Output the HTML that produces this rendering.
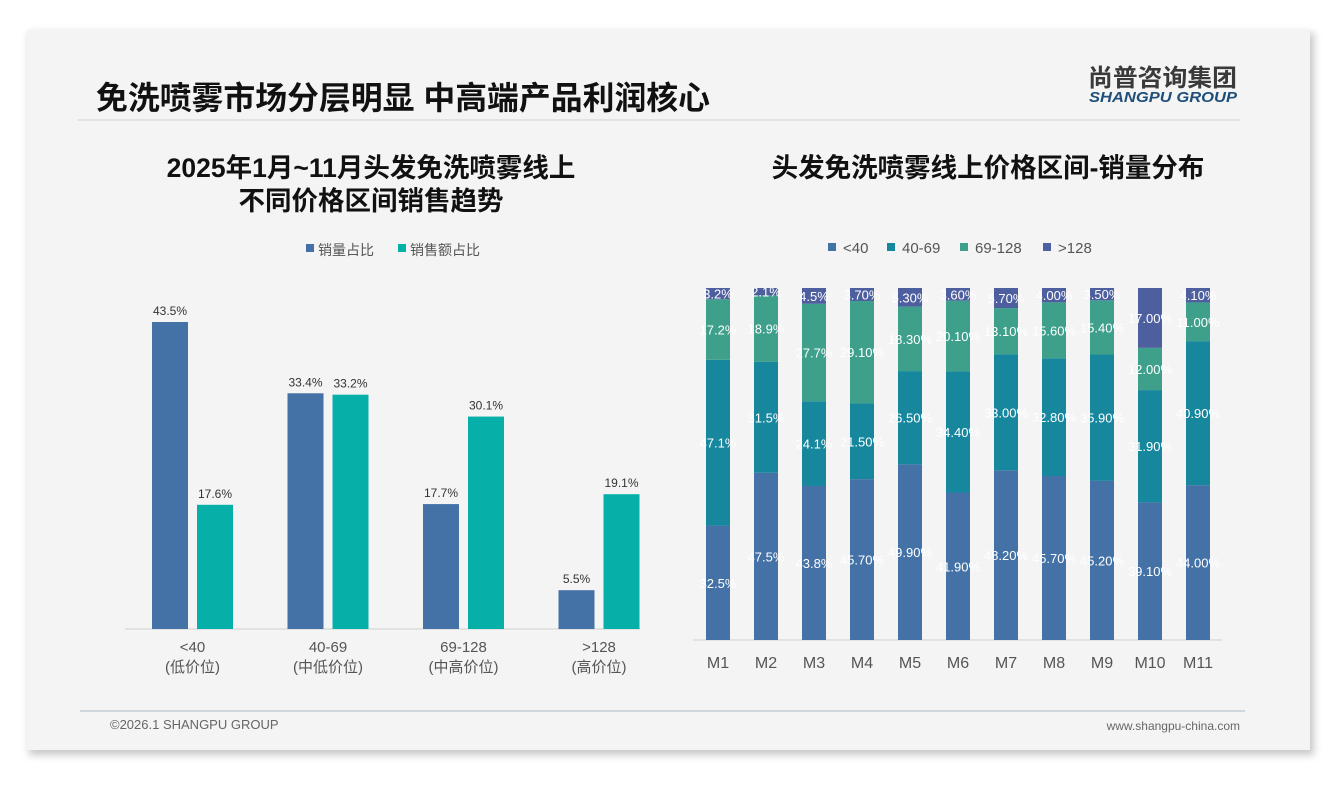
<!DOCTYPE html>
<html><head><meta charset="utf-8">
<style>
html,body{margin:0;padding:0;background:#ffffff;}
body{width:1340px;height:780px;overflow:hidden;font-family:"Liberation Sans","Noto Sans CJK SC",sans-serif;}
svg text{font-family:"Liberation Sans","Noto Sans CJK SC",sans-serif;}
</style></head>
<body>
<svg width="1340" height="780" viewBox="0 0 1340 780" xmlns="http://www.w3.org/2000/svg">
<defs>
<filter id="sh" x="-5%" y="-5%" width="110%" height="110%"><feGaussianBlur stdDeviation="4"/></filter>
</defs>
<rect x="29" y="33" width="1285" height="722" fill="#9a9a9a" opacity="0.55" filter="url(#sh)"/>
<rect x="27" y="30" width="1283" height="720" fill="#f4f4f4"/>
<text x="96" y="109" font-size="32" font-weight="bold" fill="#111" textLength="614" lengthAdjust="spacingAndGlyphs">免洗喷雾市场分层明显 中高端产品利润核心</text>
<line x1="78" y1="120" x2="1240" y2="120" stroke="#dcdcdc" stroke-width="1.5"/>
<text x="1088" y="86" font-size="24" font-weight="bold" fill="#3a3a3a" textLength="149" lengthAdjust="spacingAndGlyphs">尚普咨询集团</text>
<text x="1089" y="102" font-size="15" font-weight="bold" font-style="italic" fill="#1f4f7a" textLength="148" lengthAdjust="spacingAndGlyphs">SHANGPU GROUP</text>

<text x="371" y="177" font-size="26.5" font-weight="bold" fill="#111" text-anchor="middle">2025年1月~11月头发免洗喷雾线上</text>
<text x="371" y="210" font-size="26.5" font-weight="bold" fill="#111" text-anchor="middle">不同价格区间销售趋势</text>
<text x="988" y="177" font-size="26.5" font-weight="bold" fill="#111" text-anchor="middle">头发免洗喷雾线上价格区间-销量分布</text>

<g id="left"></g>
<g id="right"></g>

<line x1="80" y1="711" x2="1245" y2="711" stroke="#b8c4d0" stroke-width="1.2"/>
<text x="110" y="729" font-size="13" fill="#666">©2026.1 SHANGPU GROUP</text>
<text x="1240" y="730" font-size="12" fill="#666" text-anchor="end">www.shangpu-china.com</text>
</svg>
<script>
// Left chart data
const leftCats = ['<40','40-69','69-128','>128'];
const leftSubs = ['(低价位)','(中低价位)','(中高价位)','(高价位)'];
const volShare = [43.5, 33.4, 17.7, 5.5];
const revShare = [17.6, 33.2, 30.1, 19.1];
const leftSeriesNames = ['销量占比','销售额占比'];
// Right chart data
const months = ['M1','M2','M3','M4','M5','M6','M7','M8','M9','M10','M11'];
const sLow = [32.5,47.5,43.8,45.7,49.9,41.9,48.2,45.7,45.2,39.1,44.0];
const sMid = [47.1,31.5,24.1,21.5,26.5,34.4,33.0,32.8,35.9,31.9,40.9];
const sHigh = [17.2,18.9,27.7,29.1,18.3,20.1,13.1,15.6,15.4,12.0,11.0];
const sTop = [3.2,2.1,4.5,3.7,5.3,3.6,5.7,4.0,3.5,17.0,4.1];
const lblLow = ['32.5%','47.5%','43.8%','45.70%','49.90%','41.90%','48.20%','45.70%','45.20%','39.10%','44.00%'];
const lblMid = ['47.1%','31.5%','24.1%','21.50%','26.50%','34.40%','33.00%','32.80%','35.90%','31.90%','40.90%'];
const lblHigh = ['17.2%','18.9%','27.7%','29.10%','18.30%','20.10%','13.10%','15.60%','15.40%','12.00%','11.00%'];
const lblTop = ['3.2%','2.1%','4.5%','3.70%','5.30%','3.60%','5.70%','4.00%','3.50%','17.00%','4.10%'];
const rightSeriesNames = ['<40','40-69','69-128','>128'];

const NS='http://www.w3.org/2000/svg';
function mk(parent,tag,attrs,txt){const e=document.createElementNS(NS,tag);for(const k in attrs)e.setAttribute(k,attrs[k]);if(txt!==undefined)e.textContent=txt;parent.appendChild(e);return e;}

// ---- left
const L=document.getElementById('left');
const lBase=629, lScale=307/43.5, lX0=152, lStep=135.5, bw=36;
const ly=v=>lBase-v*lScale;
const lcol=['#4472a7','#06b0a8'];
const ax=mk(L,'line',{x1:125,y1:lBase,x2:640,y2:lBase,stroke:'#d0d0d0','stroke-width':1});


[volShare,revShare].forEach((ser,si)=>{
  ser.forEach((v,i)=>{
    const x=lX0+i*lStep+si*45;
    const r=mk(L,'rect',{x:x,y:ly(v),width:bw,height:v*lScale,fill:lcol[si]});
    
    
    const t=mk(L,'text',{x:x+bw/2,y:ly(v)-7,'font-size':12,fill:'#333','text-anchor':'middle'},v.toFixed(1)+'%');
    
    
  });
});
leftCats.forEach((c,i)=>{
  const cx=lX0+i*lStep+40.5;
  const t1=mk(L,'text',{x:cx,y:652,'font-size':15,fill:'#555','text-anchor':'middle'},c);
  
  
  const t2=mk(L,'text',{x:cx,y:672,'font-size':15,fill:'#555','text-anchor':'middle'},leftSubs[i]);
  
  
});
[[306,leftSeriesNames[0],lcol[0]],[398,leftSeriesNames[1],lcol[1]]].forEach((d,i)=>{
  const g=mk(L,'g',{});
  
  
  mk(g,'rect',{x:d[0],y:244,width:8,height:8,fill:d[2]});
  mk(g,'text',{x:d[0]+12,y:255,'font-size':14,fill:'#555'},d[1]);
});

// ---- right
const R=document.getElementById('right');
const rTop=288, rBase=640, rX0=718, rStep=48, rbw=24;
const rcol=['#4472a7','#17879e','#3ea08b','#4d5f9f'];
const ra=mk(R,'line',{x1:693,y1:rBase,x2:1222,y2:rBase,stroke:'#d0d0d0','stroke-width':1});


const series=[sLow,sMid,sHigh,sTop], labels=[lblLow,lblMid,lblHigh,lblTop], sn=['low','mid','high','top'];
months.forEach((m,i)=>{
  const tot=sLow[i]+sMid[i]+sHigh[i]+sTop[i];
  const h=rBase-rTop;
  let acc=0;
  series.forEach((s,si)=>{
    const v=s[i]/tot*h;
    const y=rBase-acc-v;
    const r=mk(R,'rect',{x:rX0+i*rStep-rbw/2,y:y,width:rbw,height:v,fill:rcol[si]});
    
    
    const t=mk(R,'text',{x:rX0+i*rStep,y:y+v/2+5,'font-size':13,fill:'#ffffff','text-anchor':'middle'},labels[si][i]);
    
    
    acc+=v;
  });
  const t=mk(R,'text',{x:rX0+i*rStep,y:668,'font-size':16,fill:'#555','text-anchor':'middle'},m);
  
  
});
[[828,0],[887,1],[960,2],[1043,3]].forEach((d,i)=>{
  const g=mk(R,'g',{});
  
  
  mk(g,'rect',{x:d[0],y:243,width:8,height:8,fill:rcol[d[1]]});
  mk(g,'text',{x:d[0]+15,y:253,'font-size':15,fill:'#555'},rightSeriesNames[d[1]]);
});
</script>
</body></html>
